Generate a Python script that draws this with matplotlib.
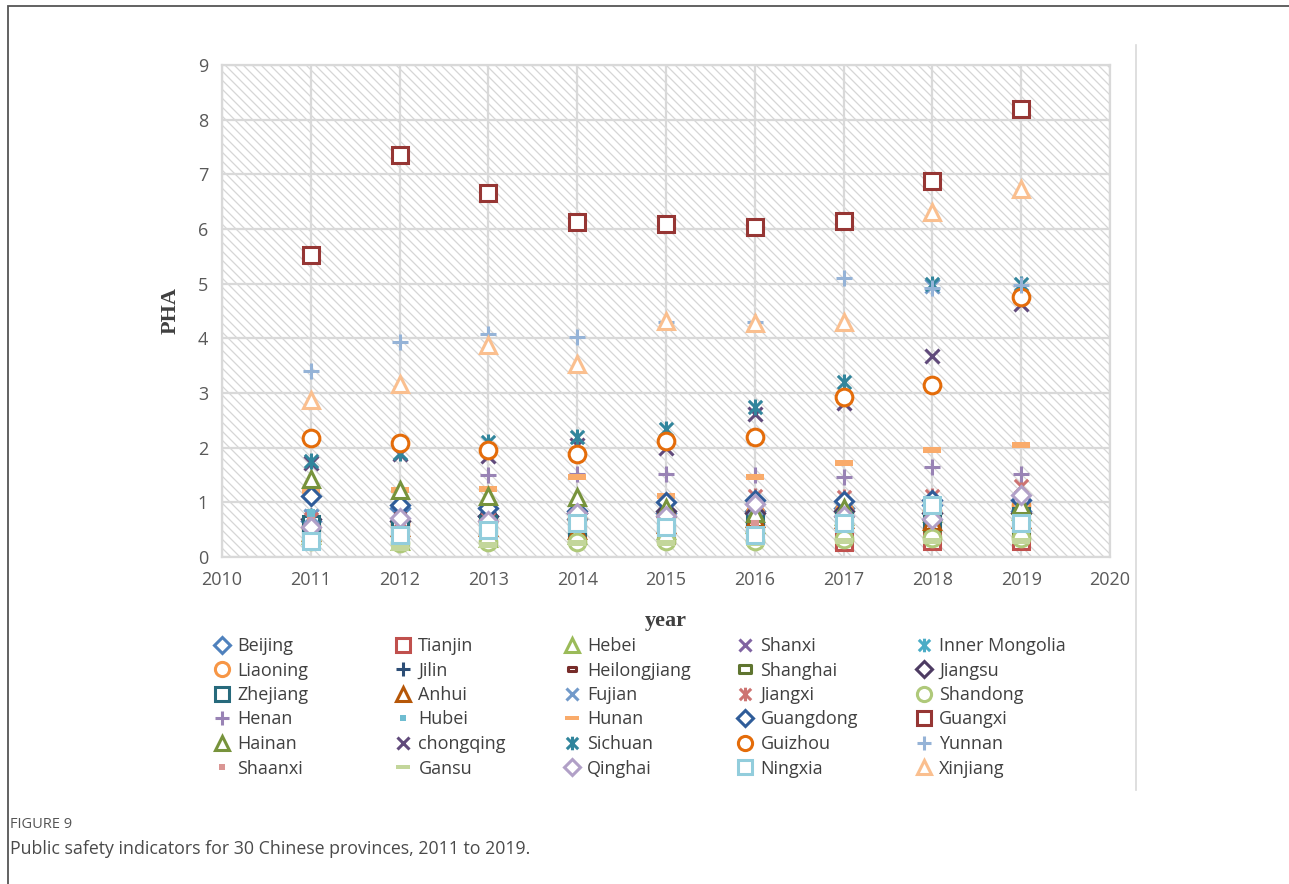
import numpy as np
import matplotlib
matplotlib.use("Agg")
import matplotlib.pyplot as plt
from matplotlib.path import Path
from matplotlib.lines import Line2D
from matplotlib.patches import Rectangle
from matplotlib.collections import LineCollection

years = [2011, 2012, 2013, 2014, 2015, 2016, 2017, 2018, 2019]

provinces = ["Beijing", "Tianjin", "Hebei", "Shanxi", "Inner Mongolia",
             "Liaoning", "Jilin", "Heilongjiang", "Shanghai", "Jiangsu",
             "Zhejiang", "Anhui", "Fujian", "Jiangxi", "Shandong",
             "Henan", "Hubei", "Hunan", "Guangdong", "Guangxi",
             "Hainan", "chongqing", "Sichuan", "Guizhou", "Yunnan",
             "Shaanxi", "Gansu", "Qinghai", "Ningxia", "Xinjiang"]

# values, 2011..2019
beijing = [0.65, 0.90, 0.75, 0.70, 0.80, 0.85, 0.90, 0.95, 0.85]
tianjin = [0.45, 0.50, 0.55, 0.45, 0.40, 0.45, 0.27, 0.30, 0.30]
hebei = [0.40, 0.30, 0.35, 0.40, 0.50, 0.60, 0.75, 0.80, 0.85]
shanxi = [0.50, 0.55, 0.60, 0.65, 0.70, 0.75, 0.80, 0.85, 0.90]
inner_mongolia = [0.75, 0.65, 0.70, 0.65, 0.60, 0.70, 0.80, 0.85, 0.80]
liaoning = [0.55, 0.60, 0.65, 0.70, 0.75, 0.80, 0.85, 0.85, 0.95]
jilin = [0.60, 0.70, 0.80, 0.75, 0.80, 0.70, 0.75, 0.70, 0.75]
heilongjiang = [0.50, 0.75, 0.85, 0.60, 0.65, 0.60, 0.70, 0.45, 0.55]
shanghai = [0.45, 0.50, 0.45, 0.50, 0.55, 0.50, 0.60, 0.55, 0.50]
jiangsu = [0.70, 0.65, 0.75, 0.80, 0.85, 0.80, 0.85, 0.80, 0.80]
zhejiang = [0.60, 0.55, 0.60, 0.55, 0.60, 0.60, 0.65, 0.70, 0.75]
anhui = [0.45, 0.55, 0.55, 0.50, 0.60, 0.72, 0.70, 0.65, 0.70]
fujian = [0.75, 0.80, 0.80, 0.85, 0.90, 0.90, 0.95, 4.95, 0.95]
jiangxi = [0.70, 0.65, 0.70, 0.75, 0.90, 1.12, 1.10, 1.12, 1.30]
shandong = [0.30, 0.25, 0.28, 0.28, 0.30, 0.30, 0.33, 0.35, 0.35]
henan = [0.60, 0.70, 1.50, 1.52, 1.52, 1.50, 1.47, 1.65, 1.52]
hubei = [0.80, 0.70, 0.75, 0.70, 0.75, 0.80, 0.85, 0.85, 0.90]
hunan = [1.20, 1.22, 1.25, 1.47, 1.12, 1.46, 1.72, 1.95, 2.05]
guangdong = [1.12, 0.95, 0.90, 0.85, 1.00, 1.05, 1.02, 1.05, 1.05]
guangxi = [5.52, 7.35, 6.66, 6.12, 6.09, 6.04, 6.15, 6.88, 8.20]
hainan = [1.43, 1.22, 1.12, 1.10, 0.90, 0.80, 0.90, 0.85, 0.95]
chongqing = [1.72, 1.88, 1.85, 2.05, 2.00, 2.62, 2.82, 3.67, 4.62]
sichuan = [1.75, 1.90, 2.10, 2.20, 2.35, 2.75, 3.20, 5.00, 5.00]
guizhou = [2.17, 2.08, 1.96, 1.88, 2.13, 2.20, 2.92, 3.15, 4.75]
yunnan = [3.40, 3.93, 4.08, 4.02, 4.30, 4.30, 5.10, 4.92, 4.98]
shaanxi = [0.65, 0.60, 0.65, 0.60, 0.55, 0.60, 0.55, 0.60, 0.65]
gansu = [0.25, 0.17, 0.22, 0.25, 0.25, 0.25, 0.30, 0.30, 0.30]
qinghai = [0.55, 0.72, 0.65, 0.80, 0.75, 0.97, 0.75, 0.70, 1.13]
ningxia = [0.30, 0.40, 0.49, 0.63, 0.55, 0.40, 0.62, 0.95, 0.62]
xinjiang = [2.87, 3.16, 3.88, 3.53, 4.32, 4.28, 4.30, 6.31, 6.73]

series = [beijing, tianjin, hebei, shanxi, inner_mongolia, liaoning, jilin,
          heilongjiang, shanghai, jiangsu, zhejiang, anhui, fujian, jiangxi,
          shandong, henan, hubei, hunan, guangdong, guangxi, hainan, chongqing,
          sichuan, guizhou, yunnan, shaanxi, gansu, qinghai, ningxia, xinjiang]

colors = ["#4F81BD", "#C0504D", "#9BBB59", "#8064A2", "#4BACC6", "#F79646",
          "#2C4D75", "#772C2A", "#5F7530", "#4D3B62", "#276A7C", "#B65708",
          "#729ACA", "#CD7371", "#AFC97A", "#9983B5", "#6FBDD1", "#F9AB6B",
          "#2F5C99", "#963634", "#77933C", "#604A7B", "#31859C", "#E46C0A",
          "#95B3D7", "#DA9694", "#C3D69B", "#B1A0C7", "#92CDDC", "#FABF8F"]

# excel-like marker shapes
star = Path([(-1, -1), (1, 1), (-1, 1), (1, -1), (0, -1.2), (0, 1.2)],
            [Path.MOVETO, Path.LINETO, Path.MOVETO, Path.LINETO, Path.MOVETO, Path.LINETO])
bar = Path([(-1, -0.3), (1, -0.3), (1, 0.3), (-1, 0.3), (-1, -0.3)],
           [Path.MOVETO, Path.LINETO, Path.LINETO, Path.LINETO, Path.CLOSEPOLY])
pill = Path([(-1, -0.55), (1, -0.55), (1, 0.55), (-1, 0.55), (-1, -0.55)],
            [Path.MOVETO, Path.LINETO, Path.LINETO, Path.LINETO, Path.CLOSEPOLY])

# (marker, size, filled)
style = {"D": ("D", 9, False), "s": ("s", 11.5, False), "^": ("^", 12, False),
         "x": ("x", 10.5, False), "*": (star, 11.5, False), "o": ("o", 12, False),
         "+": ("+", 11.5, False), "pill": (pill, 7, False), "bar2": (pill, 11, False),
         "sq": ("s", 5.5, True), "bar": (bar, 12.5, True)}
kinds = ["D", "s", "^", "x", "*", "o", "+", "pill", "bar2", "D",
         "s", "^", "x", "*", "o", "+", "sq", "bar", "D", "s",
         "^", "x", "*", "o", "+", "sq", "bar", "D", "s", "^"]

plt.rcParams['font.family'] = ['Open Sans', 'DejaVu Sans']

fig = plt.figure(figsize=(12.89, 8.84), dpi=100)
ax = fig.add_axes([222/1289, 1-557/884, 888/1289, 492/884])

# diagonal hatch background
W, H = 888, 492
segs = []
for c in np.arange(-H, W, 9):
    segs.append([(c / W, 1), ((c + H) / W, 0)])
ax.add_collection(LineCollection(segs, colors="#d6d6d6", linewidths=0.9,
                                 transform=ax.transAxes, zorder=0.1))

handles = []
for name, vals, col, k in zip(provinces, series, colors, kinds):
    m, ms, filled = style[k]
    h, = ax.plot(years, vals, ls="none", marker=m, ms=ms,
                 mec=col, mfc=col if filled else "white",
                 mew=0 if filled else 2.2, label=name, zorder=3)
    handles.append(h)

ax.set_xlim(2010, 2020)
ax.set_ylim(0, 9)
ax.set_xticks(range(2010, 2021))
ax.set_yticks(range(0, 10))
ax.grid(True, color="#d9d9d9", lw=1.6)
ax.set_axisbelow(True)
for s in ax.spines.values():
    s.set_color("#d9d9d9")
    s.set_linewidth(1.6)
ax.tick_params(length=0, labelsize=13, colors="#595959", pad=10)
ax.set_ylabel("PHA", family="Liberation Serif", weight="bold", fontsize=16,
              color="#404040", labelpad=12)
ax.set_xlabel("year", family="Liberation Serif", weight="bold", fontsize=16,
              color="#404040", labelpad=16)

# legend: 5 equal-width columns
col_x = [213, 394, 563, 736, 915]
for j in range(5):
    hs = handles[j::5]
    fig.legend(hs, [h.get_label() for h in hs], loc="upper left",
               bbox_to_anchor=(col_x[j]/1289, 1-637/884), frameon=False,
               borderaxespad=0, borderpad=0, handlelength=1.0,
               handletextpad=0.35, labelspacing=0.36, fontsize=13,
               markerscale=0.85, labelcolor="#404040")

# page frame and caption
fig.add_artist(Rectangle((8/1289, -0.05), 1.1, 1.05 - 6/884, transform=fig.transFigure,
                         fill=False, edgecolor="#555555", lw=1.3))
fig.add_artist(Line2D([1136/1289, 1136/1289], [1-45/884, 1-790/884],
                      transform=fig.transFigure, color="#d9d9d9", lw=1.2))
fig.text(10/1289, 1-825/884, "FIGURE 9", fontsize=10.5, color="#555555", va="center")
fig.text(10/1289, 1-849/884, "Public safety indicators for 30 Chinese provinces, 2011 to 2019.",
         fontsize=12.8, color="#4a4a4a", va="center")

fig.savefig("out.png", dpi=100)
